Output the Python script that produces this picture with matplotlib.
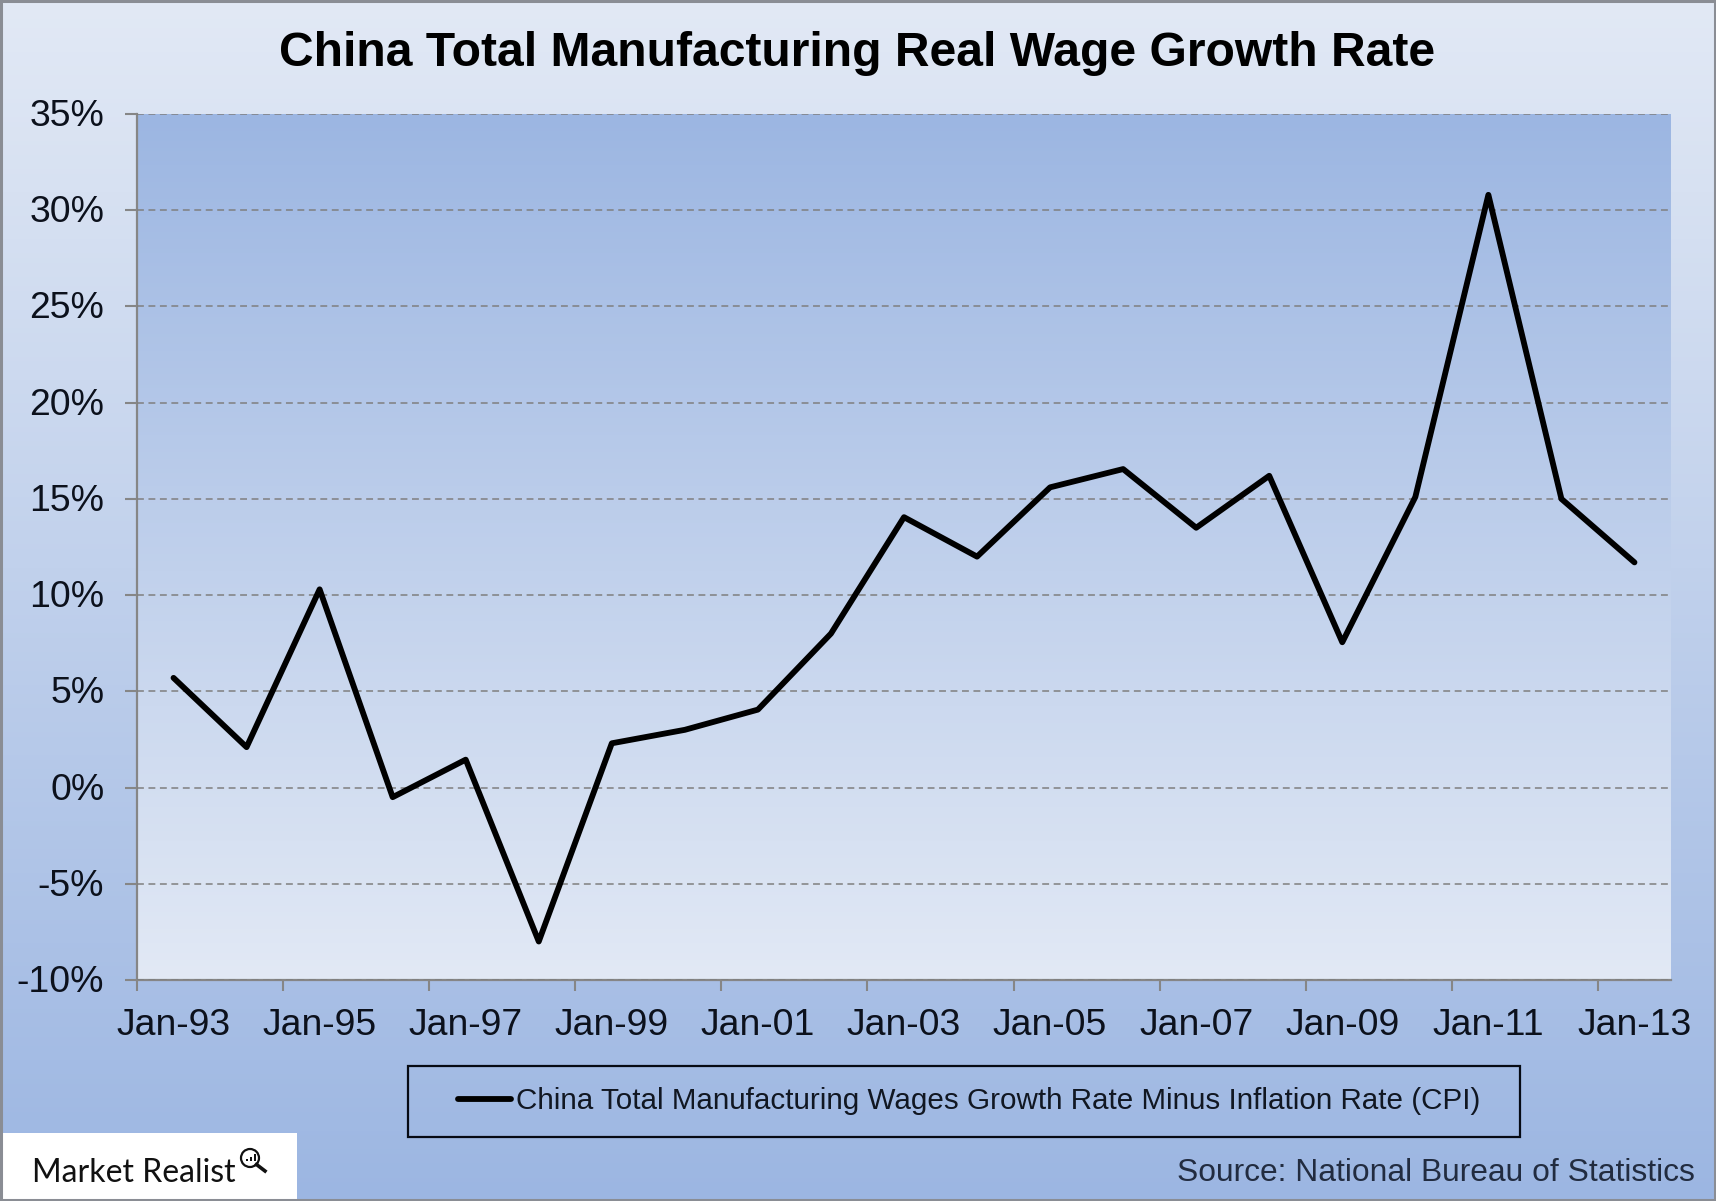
"""China total manufacturing real wage growth rate, annual line on gradient panels. -> out.png"""

import numpy as np
import matplotlib
matplotlib.use("Agg")
import matplotlib.pyplot as plt
from matplotlib.colors import LinearSegmentedColormap
from matplotlib.patches import Circle, Rectangle
from matplotlib.transforms import ScaledTranslation

plt.rcParams["font.family"] = ["Liberation Sans", "DejaVu Sans"]

W, H = 1716, 1201

YEARS = ["Jan-93", "Jan-94", "Jan-95", "Jan-96", "Jan-97", "Jan-98", "Jan-99",
         "Jan-00", "Jan-01", "Jan-02", "Jan-03", "Jan-04", "Jan-05", "Jan-06",
         "Jan-07", "Jan-08", "Jan-09", "Jan-10", "Jan-11", "Jan-12", "Jan-13"]
REAL_WAGE = [5.7, 2.1, 10.3, -0.5, 1.45, -8.0, 2.3, 3.0, 4.05, 8.0, 14.05,
             12.0, 15.6, 16.55, 13.5, 16.2, 7.55, 15.1, 30.8, 15.0, 11.7]
Y_TICKS = [-10, -5, 0, 5, 10, 15, 20, 25, 30, 35]

TITLE = "China Total Manufacturing Real Wage Growth Rate"
LEGEND = "China Total Manufacturing Wages Growth Rate Minus Inflation Rate (CPI)"
SOURCE = "Source: National Bureau of Statistics"

LIGHT, DEEP = "#E2E9F5", "#9CB6E2"
AXIS = "#868686"
INK = "#0C111C"


def main():
    fig = plt.figure(figsize=(W / 100, H / 100), dpi=100)

    # pixel-coordinate layer for the page gradient, legend frame and logo
    bg = fig.add_axes([0, 0, 1, 1], zorder=0)
    bg.set_xlim(0, W)
    bg.set_ylim(H, 0)
    bg.axis("off")
    grad = np.linspace(0, 1, 256).reshape(-1, 1)
    page = LinearSegmentedColormap.from_list("page", [LIGHT, DEEP])
    bg.imshow(grad, cmap=page, aspect="auto", extent=(0, W, H, 0), zorder=0)
    bg.add_patch(Rectangle((1, 1), W - 2, H - 2, fc="none", ec="#8A8D94", lw=2.2, zorder=5))

    ax = fig.add_axes([137 / W, 1 - 980 / H, (1671 - 137) / W, (980 - 114) / H], zorder=1)
    panel = LinearSegmentedColormap.from_list("panel", [DEEP, LIGHT])
    ax.imshow(grad, cmap=panel, aspect="auto", extent=(0, 1, 0, 1),
              transform=ax.transAxes, zorder=0)

    xs = np.arange(len(YEARS))
    ax.plot(xs, REAL_WAGE, color="black", lw=4.2, solid_joinstyle="round",
            solid_capstyle="round", zorder=3,
            label=LEGEND)

    ax.set_xlim(-0.5, len(YEARS) - 0.5)
    ax.set_ylim(-10, 35)
    ax.set_yticks(Y_TICKS)
    ax.set_yticklabels([f"{v}%" for v in Y_TICKS], fontsize=26.9, color=INK)
    ax.set_xticks(xs[::2])
    ax.set_xticklabels(YEARS[::2], fontsize=26.9, color=INK)
    ax.set_xticks(xs[::2] - 0.5, minor=True)
    ax.tick_params(axis="x", which="major", length=0, pad=20)
    ax.tick_params(axis="x", which="minor", length=8, width=1.5, color=AXIS)
    ax.tick_params(axis="y", length=8.5, width=1.5, color=AXIS, pad=15)
    ax.grid(axis="y", ls=(0, (4.5, 3)), color="#7F7F7F", lw=1.1, zorder=1)
    ax.set_axisbelow(False)
    for sp in ("top", "right"):
        ax.spines[sp].set_visible(False)
    for sp in ("left", "bottom"):
        ax.spines[sp].set_color(AXIS)
        ax.spines[sp].set_linewidth(1.6)
    # y labels sit slightly above the tick centre in the reference
    nudge = ScaledTranslation(0, 1.5 / 100, fig.dpi_scale_trans)
    for lab in ax.get_yticklabels():
        lab.set_transform(lab.get_transform() + nudge)

    fig.text(857 / W, 1 - 53 / H, TITLE, ha="center", va="center",
             fontsize=34.6, fontweight="bold", color="black")

    bg.add_patch(Rectangle((408, 1066), 1112, 71, fc="none", ec="#060A14", lw=1.6, zorder=2))
    leg = ax.legend(loc="center", bbox_to_anchor=(969 / W, 1 - 1101 / H),
                    bbox_transform=fig.transFigure, frameon=False, fontsize=21.3,
                    handlelength=1.8, handletextpad=0.15, borderpad=0, borderaxespad=0)
    leg.get_texts()[0].set_color("#111722")

    fig.text(1695 / W, 1 - 1173 / H, SOURCE, ha="right", va="center",
             fontsize=22.85, color="#222C40")

    # logo block, bottom left
    bg.add_patch(Rectangle((2, 1133), 295, 66, fc="white", ec="none", zorder=2))
    bg.text(32, 1182, "Market Realist", family="Lato", fontsize=23, color="#111111",
            ha="left", va="baseline", zorder=3)
    bg.add_patch(Circle((250, 1158), 9, fc="white", ec="#111111", lw=1.6, zorder=3))
    bg.plot([256.5, 265], [1164.5, 1171], color="#111111", lw=2.6, zorder=3)
    for bx, bh in zip([246, 250, 254], [2, 4, 7]):
        bg.add_patch(Rectangle((bx, 1161 - bh), 2.2, bh, fc="#111111", ec="none", zorder=4))

    fig.savefig("out.png", dpi=100)


if __name__ == "__main__":
    main()
